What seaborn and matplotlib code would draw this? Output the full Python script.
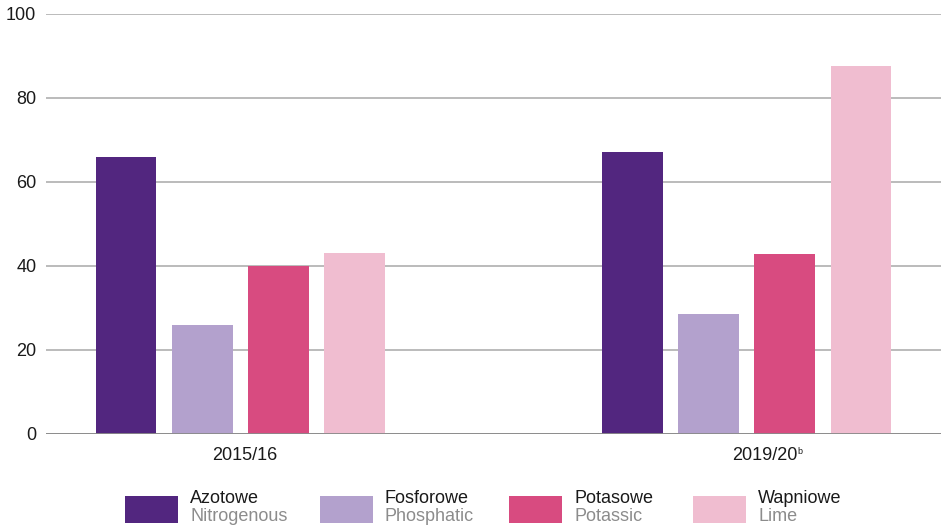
import pandas as pd
import matplotlib.pyplot as plt
from matplotlib.patches import Rectangle
from matplotlib.transforms import ScaledTranslation
import seaborn as sns

# ---------------------------------------------------------------------------
# Data
# ---------------------------------------------------------------------------
seasons = ["2015/16", "2019/20"]
season_labels = ["2015/16", "2019/20"]
season_notes = ["", "b"]
types_pl = ["Azotowe", "Fosforowe", "Potasowe", "Wapniowe"]
types_en = ["Nitrogenous", "Phosphatic", "Potassic", "Lime"]
nitrogenous = [66.0, 67.1]
phosphatic = [26.0, 28.6]
potassic = [40.0, 42.9]
lime = [43.1, 87.6]
y_ticks = [0, 20, 40, 60, 80, 100]

colors = ["#52267f", "#b3a1cd", "#d84b80", "#f0bdd0"]

rows = []
for name, vals in zip(types_pl, [nitrogenous, phosphatic, potassic, lime]):
    for s, v in zip(seasons, vals):
        rows.append({"season": s, "type": name, "value": v})
df = pd.DataFrame(rows)

# ---------------------------------------------------------------------------
# Plot
# ---------------------------------------------------------------------------
sns.set_style("white")
plt.rcParams['font.family'] = ['Liberation Sans', 'DejaVu Sans']

W, H = 941, 526
fig = plt.figure(figsize=(W / 100, H / 100), dpi=100)
ax = fig.add_axes([46 / W, 92 / H, 895 / W, 420 / H])

sns.barplot(data=df, x="season", y="value", hue="type", order=seasons,
            hue_order=types_pl, palette=colors, width=0.6, gap=0.2,
            saturation=1, errorbar=None, legend=False, ax=ax, zorder=3,
            linewidth=0, edgecolor='none')

ax.set_xlim(-0.383, 1.383)
ax.set_ylim(0, 100)
ax.set_yticks(y_ticks)
ax.set_xticks(range(len(seasons)))
ax.set_xticklabels(season_labels)
ax.set_xlabel("")
ax.set_ylabel("")
ax.tick_params(axis='both', length=0, labelsize=13, colors='#1a1a1a')
ax.tick_params(axis='y', pad=7)
ax.tick_params(axis='x', pad=9)
for sp in ax.spines.values():
    sp.set_visible(False)
ax.yaxis.grid(True, color='#a8a8a8', linewidth=1.1)
ax.set_axisbelow(True)
ax.axhline(0, color='#8a8a8a', linewidth=1.3, zorder=4)

# the labels in the original sit a little right of the group centres
label_shift_px = [5, 18]
for lab, dx in zip(ax.get_xticklabels(), label_shift_px):
    lab.set_transform(lab.get_transform() + ScaledTranslation(dx / 100, 0, fig.dpi_scale_trans))

# small superscript footnote marks after the category labels
for i, note in enumerate(season_notes):
    if note:
        ax.annotate(note, xy=(i, 0), xycoords=('data', 'axes fraction'),
                    xytext=(36.5, -12.5), textcoords='offset points',
                    fontsize=6.5, color='#1a1a1a', ha='left', va='center')

# ---------------------------------------------------------------------------
# Legend (two-line labels: Polish black, English grey)
# ---------------------------------------------------------------------------
legend_x = [125, 320, 509, 693]
for x, c, pl, en in zip(legend_x, colors, types_pl, types_en):
    fig.patches.append(Rectangle((x / W, (H - 523) / H), 53 / W, 27 / H,
                                 transform=fig.transFigure, facecolor=c,
                                 edgecolor='none'))
    fig.text((x + 65) / W, (H - 503) / H, pl, fontsize=13, color='#1a1a1a',
             ha='left', va='baseline')
    fig.text((x + 65) / W, (H - 521) / H, en, fontsize=13, color='#8c8c8c',
             ha='left', va='baseline')

fig.savefig("out.png", dpi=100)
